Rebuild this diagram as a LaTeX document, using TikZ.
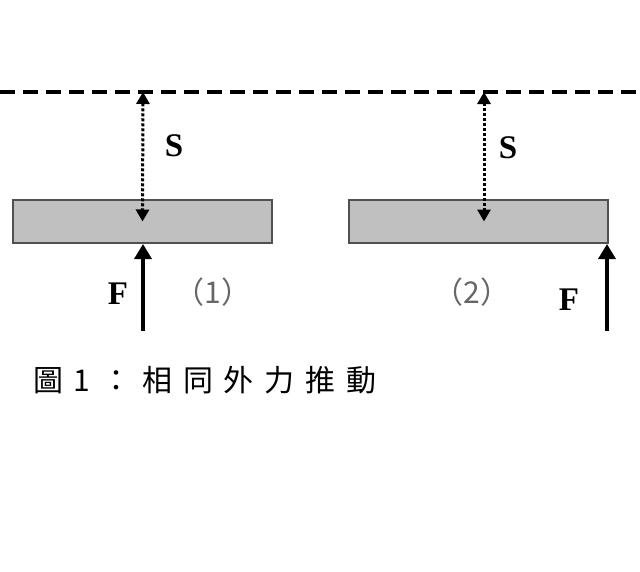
\documentclass[tikz,border=0pt]{standalone}
\usepackage{fontspec}
\usepackage{xcolor}
\usetikzlibrary{arrows.meta}
\newfontfamily\cjktc{Noto Sans CJK TC}
\newfontfamily\cjkcap[LetterSpace=36]{Noto Sans CJK TC}
\setmainfont{Liberation Serif}

\definecolor{plate}{RGB}{192,192,192}
\definecolor{rim}{RGB}{80,80,80}

\tikzset{
	platte/.style={draw=rim, fill=plate, line width=2pt, rectangle, minimum width=259pt, minimum height=43pt, inner sep=0pt},
	weg/.style={line width=3pt, dash pattern=on 3pt off 2pt, {Triangle[width=13pt,length=12pt]}-{Triangle[width=13pt,length=12pt]}},
	kraft/.style={line width=3.5pt, -{Triangle[width=17pt,length=15pt]}},
	lbl/.style={font=\fontsize{33}{33}\selectfont\bfseries},
	nummer/.style={font=\fontsize{30}{30}\selectfont\cjktc, text=black!60}
}

\begin{document}
\begin{tikzpicture}[x=1pt,y=-1pt]
		\useasboundingbox (0,0) rectangle (640,571);
		
		% Grenzlinie oben
		\coordinate (gl) at (0,92);
		\coordinate (gr) at (640,92);
		\draw[line width=4pt, dash pattern=on 15pt off 8pt] (gl) -- (gr);
		
		% Fall (1)
		\node[platte] (box1) at (142.5,221.5) {};
		\coordinate (top1) at (143,92);
		\coordinate (fuss1) at (143,331);
		\draw[weg] (top1) -- (box1.center);
		\draw[kraft] (fuss1) -- (box1.south -| fuss1);
		\node[lbl] (s1) at (174,146) {S};
		\node[lbl] (f1) at (118,294) {F};
		\node[nummer] (n1) at (213,292) {（1）};
		
		% Fall (2)
		\node[platte] (box2) at (478.5,221.5) {};
		\coordinate (top2) at (484,92);
		\coordinate (fuss2) at (607,331);
		\draw[weg] (top2) -- (box2.center -| top2);
		\draw[kraft] (fuss2) -- (box2.south -| fuss2);
		\node[lbl] (s2) at (508,148) {S};
		\node[lbl] (f2) at (569,300) {F};
		\node[nummer] (n2) at (472,292) {（2）};
		
		% Bildunterschrift
		\node[anchor=west, inner sep=0pt, font=\fontsize{30}{30}\selectfont\cjkcap] (cap) at (33,380) {圖1：相同外力推動};
		
	\end{tikzpicture}
\end{document}
